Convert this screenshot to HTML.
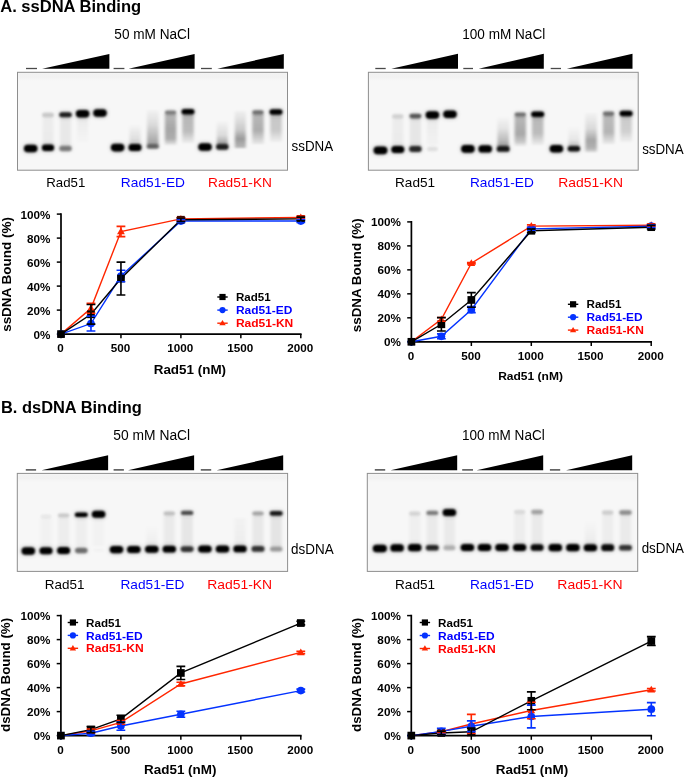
<!DOCTYPE html>
<html><head><meta charset="utf-8"><title>Rad51 binding</title>
<style>
html,body{margin:0;padding:0;background:#fff;width:685px;height:778px;overflow:hidden}
svg{display:block;font-family:"Liberation Sans", sans-serif;will-change:transform}
</style></head><body>
<svg width="685" height="778" viewBox="0 0 685 778">
<defs><filter id="bl" x="-50%" y="-80%" width="200%" height="260%"><feGaussianBlur stdDeviation="0.95"/></filter>
<filter id="bh" x="-80%" y="-150%" width="260%" height="400%"><feGaussianBlur stdDeviation="2.6"/></filter>
<filter id="bs" x="-50%" y="-20%" width="200%" height="140%"><feGaussianBlur stdDeviation="1.6 1.2"/></filter>
<linearGradient id="well" x1="0" y1="0" x2="0" y2="1"><stop offset="0" stop-color="#e6e6e6" stop-opacity="0.5"/><stop offset="0.5" stop-color="#e8e8e8" stop-opacity="0.6"/><stop offset="1" stop-color="#eeeeee" stop-opacity="0"/></linearGradient>
<linearGradient id="sg2" x1="0" y1="0" x2="0" y2="1"><stop offset="0" stop-color="#000" stop-opacity="0.04"/><stop offset="1" stop-color="#000" stop-opacity="0.05"/></linearGradient>
<linearGradient id="sg3" x1="0" y1="0" x2="0" y2="1"><stop offset="0" stop-color="#000" stop-opacity="0.06"/><stop offset="1" stop-color="#000" stop-opacity="0.06"/></linearGradient>
<linearGradient id="sg4" x1="0" y1="0" x2="0" y2="1"><stop offset="0" stop-color="#000" stop-opacity="0.05"/><stop offset="1" stop-color="#000" stop-opacity="0.01"/></linearGradient>
<linearGradient id="sg5" x1="0" y1="0" x2="0" y2="1"><stop offset="0" stop-color="#000" stop-opacity="0.0"/><stop offset="1" stop-color="#000" stop-opacity="0.15"/></linearGradient>
<linearGradient id="sg6" x1="0" y1="0" x2="0" y2="1"><stop offset="0" stop-color="#000" stop-opacity="0.02"/><stop offset="0.4" stop-color="#000" stop-opacity="0.12"/><stop offset="0.8" stop-color="#000" stop-opacity="0.3"/><stop offset="1" stop-color="#000" stop-opacity="0.38"/></linearGradient>
<linearGradient id="sg7" x1="0" y1="0" x2="0" y2="1"><stop offset="0" stop-color="#000" stop-opacity="0.25"/><stop offset="0.5" stop-color="#000" stop-opacity="0.33"/><stop offset="0.8" stop-color="#000" stop-opacity="0.3"/><stop offset="1" stop-color="#000" stop-opacity="0.06"/></linearGradient>
<linearGradient id="sg8" x1="0" y1="0" x2="0" y2="1"><stop offset="0" stop-color="#000" stop-opacity="0.26"/><stop offset="0.6" stop-color="#000" stop-opacity="0.24"/><stop offset="1" stop-color="#000" stop-opacity="0.04"/></linearGradient>
<linearGradient id="sg9" x1="0" y1="0" x2="0" y2="1"><stop offset="0" stop-color="#000" stop-opacity="0.0"/><stop offset="0.6" stop-color="#000" stop-opacity="0.12"/><stop offset="1" stop-color="#000" stop-opacity="0.4"/></linearGradient>
<linearGradient id="sg10" x1="0" y1="0" x2="0" y2="1"><stop offset="0" stop-color="#000" stop-opacity="0.03"/><stop offset="0.5" stop-color="#000" stop-opacity="0.18"/><stop offset="0.75" stop-color="#000" stop-opacity="0.38"/><stop offset="1" stop-color="#000" stop-opacity="0.25"/></linearGradient>
<linearGradient id="sg11" x1="0" y1="0" x2="0" y2="1"><stop offset="0" stop-color="#000" stop-opacity="0.25"/><stop offset="0.55" stop-color="#000" stop-opacity="0.3"/><stop offset="1" stop-color="#000" stop-opacity="0.06"/></linearGradient>
<linearGradient id="sg12" x1="0" y1="0" x2="0" y2="1"><stop offset="0" stop-color="#000" stop-opacity="0.2"/><stop offset="0.6" stop-color="#000" stop-opacity="0.18"/><stop offset="1" stop-color="#000" stop-opacity="0.03"/></linearGradient>
<linearGradient id="sg14" x1="0" y1="0" x2="0" y2="1"><stop offset="0" stop-color="#000" stop-opacity="0.04"/><stop offset="1" stop-color="#000" stop-opacity="0.05"/></linearGradient>
<linearGradient id="sg15" x1="0" y1="0" x2="0" y2="1"><stop offset="0" stop-color="#000" stop-opacity="0.07"/><stop offset="1" stop-color="#000" stop-opacity="0.07"/></linearGradient>
<linearGradient id="sg16" x1="0" y1="0" x2="0" y2="1"><stop offset="0" stop-color="#000" stop-opacity="0.05"/><stop offset="1" stop-color="#000" stop-opacity="0.02"/></linearGradient>
<linearGradient id="sg17" x1="0" y1="0" x2="0" y2="1"><stop offset="0" stop-color="#000" stop-opacity="0.0"/><stop offset="0.4" stop-color="#000" stop-opacity="0.08"/><stop offset="0.8" stop-color="#000" stop-opacity="0.25"/><stop offset="1" stop-color="#000" stop-opacity="0.35"/></linearGradient>
<linearGradient id="sg18" x1="0" y1="0" x2="0" y2="1"><stop offset="0" stop-color="#000" stop-opacity="0.25"/><stop offset="0.6" stop-color="#000" stop-opacity="0.32"/><stop offset="0.85" stop-color="#000" stop-opacity="0.2"/><stop offset="1" stop-color="#000" stop-opacity="0.04"/></linearGradient>
<linearGradient id="sg19" x1="0" y1="0" x2="0" y2="1"><stop offset="0" stop-color="#000" stop-opacity="0.25"/><stop offset="0.6" stop-color="#000" stop-opacity="0.24"/><stop offset="1" stop-color="#000" stop-opacity="0.04"/></linearGradient>
<linearGradient id="sg20" x1="0" y1="0" x2="0" y2="1"><stop offset="0" stop-color="#000" stop-opacity="0.0"/><stop offset="0.6" stop-color="#000" stop-opacity="0.06"/><stop offset="1" stop-color="#000" stop-opacity="0.2"/></linearGradient>
<linearGradient id="sg21" x1="0" y1="0" x2="0" y2="1"><stop offset="0" stop-color="#000" stop-opacity="0.02"/><stop offset="0.4" stop-color="#000" stop-opacity="0.12"/><stop offset="0.7" stop-color="#000" stop-opacity="0.33"/><stop offset="0.9" stop-color="#000" stop-opacity="0.28"/><stop offset="1" stop-color="#000" stop-opacity="0.12"/></linearGradient>
<linearGradient id="sg22" x1="0" y1="0" x2="0" y2="1"><stop offset="0" stop-color="#000" stop-opacity="0.24"/><stop offset="0.6" stop-color="#000" stop-opacity="0.27"/><stop offset="1" stop-color="#000" stop-opacity="0.05"/></linearGradient>
<linearGradient id="sg23" x1="0" y1="0" x2="0" y2="1"><stop offset="0" stop-color="#000" stop-opacity="0.18"/><stop offset="0.6" stop-color="#000" stop-opacity="0.16"/><stop offset="1" stop-color="#000" stop-opacity="0.03"/></linearGradient>
<linearGradient id="sg25" x1="0" y1="0" x2="0" y2="1"><stop offset="0" stop-color="#000" stop-opacity="0.025"/><stop offset="1" stop-color="#000" stop-opacity="0.025"/></linearGradient>
<linearGradient id="sg26" x1="0" y1="0" x2="0" y2="1"><stop offset="0" stop-color="#000" stop-opacity="0.04"/><stop offset="1" stop-color="#000" stop-opacity="0.04"/></linearGradient>
<linearGradient id="sg27" x1="0" y1="0" x2="0" y2="1"><stop offset="0" stop-color="#000" stop-opacity="0.035"/><stop offset="1" stop-color="#000" stop-opacity="0.035"/></linearGradient>
<linearGradient id="sg28" x1="0" y1="0" x2="0" y2="1"><stop offset="0" stop-color="#000" stop-opacity="0.02"/><stop offset="1" stop-color="#000" stop-opacity="0.02"/></linearGradient>
<linearGradient id="sg29" x1="0" y1="0" x2="0" y2="1"><stop offset="0" stop-color="#000" stop-opacity="0.0"/><stop offset="1" stop-color="#000" stop-opacity="0.04"/></linearGradient>
<linearGradient id="sg30" x1="0" y1="0" x2="0" y2="1"><stop offset="0" stop-color="#000" stop-opacity="0.05"/><stop offset="1" stop-color="#000" stop-opacity="0.05"/></linearGradient>
<linearGradient id="sg31" x1="0" y1="0" x2="0" y2="1"><stop offset="0" stop-color="#000" stop-opacity="0.07"/><stop offset="1" stop-color="#000" stop-opacity="0.07"/></linearGradient>
<linearGradient id="sg32" x1="0" y1="0" x2="0" y2="1"><stop offset="0" stop-color="#000" stop-opacity="0.02"/><stop offset="1" stop-color="#000" stop-opacity="0.04"/></linearGradient>
<linearGradient id="sg33" x1="0" y1="0" x2="0" y2="1"><stop offset="0" stop-color="#000" stop-opacity="0.06"/><stop offset="1" stop-color="#000" stop-opacity="0.06"/></linearGradient>
<linearGradient id="sg34" x1="0" y1="0" x2="0" y2="1"><stop offset="0" stop-color="#000" stop-opacity="0.08"/><stop offset="1" stop-color="#000" stop-opacity="0.08"/></linearGradient>
<linearGradient id="sg36" x1="0" y1="0" x2="0" y2="1"><stop offset="0" stop-color="#000" stop-opacity="0.03"/><stop offset="1" stop-color="#000" stop-opacity="0.03"/></linearGradient>
<linearGradient id="sg37" x1="0" y1="0" x2="0" y2="1"><stop offset="0" stop-color="#000" stop-opacity="0.05"/><stop offset="1" stop-color="#000" stop-opacity="0.05"/></linearGradient>
<linearGradient id="sg38" x1="0" y1="0" x2="0" y2="1"><stop offset="0" stop-color="#000" stop-opacity="0.05"/><stop offset="1" stop-color="#000" stop-opacity="0.05"/></linearGradient>
<linearGradient id="sg39" x1="0" y1="0" x2="0" y2="1"><stop offset="0" stop-color="#000" stop-opacity="0.04"/><stop offset="1" stop-color="#000" stop-opacity="0.04"/></linearGradient>
<linearGradient id="sg40" x1="0" y1="0" x2="0" y2="1"><stop offset="0" stop-color="#000" stop-opacity="0.05"/><stop offset="1" stop-color="#000" stop-opacity="0.05"/></linearGradient>
<linearGradient id="sg41" x1="0" y1="0" x2="0" y2="1"><stop offset="0" stop-color="#000" stop-opacity="0.0"/><stop offset="1" stop-color="#000" stop-opacity="0.05"/></linearGradient>
<linearGradient id="sg42" x1="0" y1="0" x2="0" y2="1"><stop offset="0" stop-color="#000" stop-opacity="0.04"/><stop offset="1" stop-color="#000" stop-opacity="0.04"/></linearGradient>
<linearGradient id="sg43" x1="0" y1="0" x2="0" y2="1"><stop offset="0" stop-color="#000" stop-opacity="0.05"/><stop offset="1" stop-color="#000" stop-opacity="0.05"/></linearGradient></defs>
<text x="0.19" y="11.7" font-size="16" font-weight="bold" fill="#000" textLength="140.91" lengthAdjust="spacingAndGlyphs">A. ssDNA Binding</text>
<text x="1.01" y="412.8" font-size="16" font-weight="bold" fill="#000" textLength="140.79" lengthAdjust="spacingAndGlyphs">B. dsDNA Binding</text>
<rect x="17.5" y="72.3" width="270.0" height="97.89999999999999" fill="#f7f7f7" stroke="#8e8e8e" stroke-width="1"/>
<rect x="18.5" y="73.3" width="268.0" height="8" fill="url(#well)" opacity="0.6"/>
<rect x="23.95" y="144.70" width="13.5" height="7.6" rx="3.80" fill="#000" opacity="0.300" filter="url(#bh)"/>
<rect x="23.95" y="144.70" width="13.5" height="7.6" rx="3.80" fill="#000" opacity="1" filter="url(#bl)"/>
<rect x="42.50" y="117" width="11" height="29" fill="url(#sg2)" filter="url(#bs)"/>
<rect x="41.90" y="144.55" width="12.2" height="6.5" rx="3.25" fill="#000" opacity="0.300" filter="url(#bh)"/>
<rect x="41.90" y="144.55" width="12.2" height="6.5" rx="3.25" fill="#000" opacity="1" filter="url(#bl)"/>
<rect x="42.00" y="112.75" width="12.0" height="4.5" rx="2.25" fill="#000" opacity="0.048" filter="url(#bh)"/>
<rect x="42.00" y="112.75" width="12.0" height="4.5" rx="2.25" fill="#000" opacity="0.16" filter="url(#bl)"/>
<rect x="60.00" y="117" width="11" height="29" fill="url(#sg3)" filter="url(#bs)"/>
<rect x="59.25" y="112.30" width="12.5" height="5" rx="2.50" fill="#000" opacity="0.255" filter="url(#bh)"/>
<rect x="59.25" y="112.30" width="12.5" height="5" rx="2.50" fill="#000" opacity="0.85" filter="url(#bl)"/>
<rect x="59.25" y="145.75" width="12.5" height="5.5" rx="2.75" fill="#000" opacity="0.135" filter="url(#bh)"/>
<rect x="59.25" y="145.75" width="12.5" height="5.5" rx="2.75" fill="#000" opacity="0.45" filter="url(#bl)"/>
<rect x="77.10" y="117" width="11" height="25" fill="url(#sg4)" filter="url(#bs)"/>
<rect x="75.85" y="110.00" width="13.5" height="7.4" rx="3.70" fill="#000" opacity="0.300" filter="url(#bh)"/>
<rect x="75.85" y="110.00" width="13.5" height="7.4" rx="3.70" fill="#000" opacity="1" filter="url(#bl)"/>
<rect x="93.25" y="109.30" width="13.5" height="7.4" rx="3.70" fill="#000" opacity="0.300" filter="url(#bh)"/>
<rect x="93.25" y="109.30" width="13.5" height="7.4" rx="3.70" fill="#000" opacity="1" filter="url(#bl)"/>
<rect x="110.85" y="143.80" width="13.5" height="7.6" rx="3.80" fill="#000" opacity="0.300" filter="url(#bh)"/>
<rect x="110.85" y="143.80" width="13.5" height="7.6" rx="3.80" fill="#000" opacity="1" filter="url(#bl)"/>
<rect x="129.50" y="124" width="11" height="22" fill="url(#sg5)" filter="url(#bs)"/>
<rect x="128.50" y="144.10" width="13.0" height="7.0" rx="3.50" fill="#000" opacity="0.300" filter="url(#bh)"/>
<rect x="128.50" y="144.10" width="13.0" height="7.0" rx="3.50" fill="#000" opacity="1" filter="url(#bl)"/>
<rect x="147.05" y="110" width="11.5" height="38" fill="url(#sg6)" filter="url(#bs)"/>
<rect x="146.80" y="144.00" width="12.0" height="5" rx="2.50" fill="#000" opacity="0.105" filter="url(#bh)"/>
<rect x="146.80" y="144.00" width="12.0" height="5" rx="2.50" fill="#000" opacity="0.35" filter="url(#bl)"/>
<rect x="164.85" y="114" width="11.5" height="31" fill="url(#sg7)" filter="url(#bs)"/>
<rect x="164.85" y="110.40" width="11.5" height="4.2" rx="2.10" fill="#000" opacity="0.135" filter="url(#bh)"/>
<rect x="164.85" y="110.40" width="11.5" height="4.2" rx="2.10" fill="#000" opacity="0.45" filter="url(#bl)"/>
<rect x="182.25" y="114" width="11.5" height="29" fill="url(#sg8)" filter="url(#bs)"/>
<rect x="181.50" y="109.05" width="13.0" height="5.5" rx="2.75" fill="#000" opacity="0.300" filter="url(#bh)"/>
<rect x="181.50" y="109.05" width="13.0" height="5.5" rx="2.75" fill="#000" opacity="1" filter="url(#bl)"/>
<rect x="198.25" y="143.20" width="13.5" height="7.6" rx="3.80" fill="#000" opacity="0.300" filter="url(#bh)"/>
<rect x="198.25" y="143.20" width="13.5" height="7.6" rx="3.80" fill="#000" opacity="1" filter="url(#bl)"/>
<rect x="216.80" y="120" width="11" height="26" fill="url(#sg9)" filter="url(#bs)"/>
<rect x="216.05" y="144.25" width="12.5" height="5.5" rx="2.75" fill="#000" opacity="0.255" filter="url(#bh)"/>
<rect x="216.05" y="144.25" width="12.5" height="5.5" rx="2.75" fill="#000" opacity="0.85" filter="url(#bl)"/>
<rect x="234.80" y="111" width="11" height="37" fill="url(#sg10)" filter="url(#bs)"/>
<rect x="252.25" y="114" width="11.5" height="30" fill="url(#sg11)" filter="url(#bs)"/>
<rect x="252.25" y="110.30" width="11.5" height="4.2" rx="2.10" fill="#000" opacity="0.150" filter="url(#bh)"/>
<rect x="252.25" y="110.30" width="11.5" height="4.2" rx="2.10" fill="#000" opacity="0.5" filter="url(#bl)"/>
<rect x="270.25" y="114" width="11.5" height="28" fill="url(#sg12)" filter="url(#bs)"/>
<rect x="269.50" y="109.25" width="13.0" height="5.5" rx="2.75" fill="#000" opacity="0.300" filter="url(#bh)"/>
<rect x="269.50" y="109.25" width="13.0" height="5.5" rx="2.75" fill="#000" opacity="1" filter="url(#bl)"/>
<rect x="368.4" y="72.3" width="269.80000000000007" height="97.89999999999999" fill="#f7f7f7" stroke="#8e8e8e" stroke-width="1"/>
<rect x="369.4" y="73.3" width="267.80000000000007" height="8" fill="url(#well)" opacity="0.6"/>
<rect x="373.60" y="146.40" width="13.8" height="7.8" rx="3.90" fill="#000" opacity="0.300" filter="url(#bh)"/>
<rect x="373.60" y="146.40" width="13.8" height="7.8" rx="3.90" fill="#000" opacity="1" filter="url(#bl)"/>
<rect x="392.30" y="118" width="11" height="29" fill="url(#sg14)" filter="url(#bs)"/>
<rect x="391.30" y="146.00" width="13.0" height="7.0" rx="3.50" fill="#000" opacity="0.300" filter="url(#bh)"/>
<rect x="391.30" y="146.00" width="13.0" height="7.0" rx="3.50" fill="#000" opacity="1" filter="url(#bl)"/>
<rect x="392.05" y="114.30" width="11.5" height="4.2" rx="2.10" fill="#000" opacity="0.039" filter="url(#bh)"/>
<rect x="392.05" y="114.30" width="11.5" height="4.2" rx="2.10" fill="#000" opacity="0.13" filter="url(#bl)"/>
<rect x="409.90" y="118" width="11" height="29" fill="url(#sg15)" filter="url(#bs)"/>
<rect x="409.40" y="113.70" width="12.0" height="4.8" rx="2.40" fill="#000" opacity="0.180" filter="url(#bh)"/>
<rect x="409.40" y="113.70" width="12.0" height="4.8" rx="2.40" fill="#000" opacity="0.6" filter="url(#bl)"/>
<rect x="409.15" y="146.10" width="12.5" height="5.8" rx="2.90" fill="#000" opacity="0.240" filter="url(#bh)"/>
<rect x="409.15" y="146.10" width="12.5" height="5.8" rx="2.90" fill="#000" opacity="0.8" filter="url(#bl)"/>
<rect x="426.90" y="117" width="11" height="28" fill="url(#sg16)" filter="url(#bs)"/>
<rect x="425.65" y="111.30" width="13.5" height="7.4" rx="3.70" fill="#000" opacity="0.300" filter="url(#bh)"/>
<rect x="425.65" y="111.30" width="13.5" height="7.4" rx="3.70" fill="#000" opacity="1" filter="url(#bl)"/>
<rect x="426.90" y="146.75" width="11.0" height="4.5" rx="2.25" fill="#000" opacity="0.024" filter="url(#bh)"/>
<rect x="426.90" y="146.75" width="11.0" height="4.5" rx="2.25" fill="#000" opacity="0.08" filter="url(#bl)"/>
<rect x="443.25" y="110.60" width="13.5" height="7.4" rx="3.70" fill="#000" opacity="0.300" filter="url(#bh)"/>
<rect x="443.25" y="110.60" width="13.5" height="7.4" rx="3.70" fill="#000" opacity="1" filter="url(#bl)"/>
<rect x="461.15" y="145.10" width="13.5" height="7.6" rx="3.80" fill="#000" opacity="0.300" filter="url(#bh)"/>
<rect x="461.15" y="145.10" width="13.5" height="7.6" rx="3.80" fill="#000" opacity="1" filter="url(#bl)"/>
<rect x="478.45" y="145.20" width="13.5" height="7.4" rx="3.70" fill="#000" opacity="0.300" filter="url(#bh)"/>
<rect x="478.45" y="145.20" width="13.5" height="7.4" rx="3.70" fill="#000" opacity="1" filter="url(#bl)"/>
<rect x="497.45" y="116" width="11.5" height="31" fill="url(#sg17)" filter="url(#bs)"/>
<rect x="496.70" y="146.00" width="13.0" height="5.8" rx="2.90" fill="#000" opacity="0.264" filter="url(#bh)"/>
<rect x="496.70" y="146.00" width="13.0" height="5.8" rx="2.90" fill="#000" opacity="0.88" filter="url(#bl)"/>
<rect x="514.55" y="116" width="11.5" height="30" fill="url(#sg18)" filter="url(#bs)"/>
<rect x="514.55" y="112.40" width="11.5" height="4.2" rx="2.10" fill="#000" opacity="0.150" filter="url(#bh)"/>
<rect x="514.55" y="112.40" width="11.5" height="4.2" rx="2.10" fill="#000" opacity="0.5" filter="url(#bl)"/>
<rect x="531.95" y="116" width="11.5" height="29" fill="url(#sg19)" filter="url(#bs)"/>
<rect x="531.20" y="111.45" width="13.0" height="5.5" rx="2.75" fill="#000" opacity="0.300" filter="url(#bh)"/>
<rect x="531.20" y="111.45" width="13.0" height="5.5" rx="2.75" fill="#000" opacity="1" filter="url(#bl)"/>
<rect x="549.65" y="145.00" width="13.5" height="7.6" rx="3.80" fill="#000" opacity="0.300" filter="url(#bh)"/>
<rect x="549.65" y="145.00" width="13.5" height="7.6" rx="3.80" fill="#000" opacity="1" filter="url(#bl)"/>
<rect x="568.40" y="126" width="11" height="21" fill="url(#sg20)" filter="url(#bs)"/>
<rect x="567.65" y="146.05" width="12.5" height="5.5" rx="2.75" fill="#000" opacity="0.270" filter="url(#bh)"/>
<rect x="567.65" y="146.05" width="12.5" height="5.5" rx="2.75" fill="#000" opacity="0.9" filter="url(#bl)"/>
<rect x="585.35" y="113" width="11.5" height="39" fill="url(#sg21)" filter="url(#bs)"/>
<rect x="602.85" y="115" width="11.5" height="29" fill="url(#sg22)" filter="url(#bs)"/>
<rect x="602.85" y="111.50" width="11.5" height="4.2" rx="2.10" fill="#000" opacity="0.150" filter="url(#bh)"/>
<rect x="602.85" y="111.50" width="11.5" height="4.2" rx="2.10" fill="#000" opacity="0.5" filter="url(#bl)"/>
<rect x="620.35" y="115" width="11.5" height="27" fill="url(#sg23)" filter="url(#bs)"/>
<rect x="619.60" y="110.75" width="13.0" height="5.5" rx="2.75" fill="#000" opacity="0.300" filter="url(#bh)"/>
<rect x="619.60" y="110.75" width="13.0" height="5.5" rx="2.75" fill="#000" opacity="1" filter="url(#bl)"/>
<rect x="17.3" y="473.4" width="270.3" height="98.0" fill="#f7f7f7" stroke="#8e8e8e" stroke-width="1"/>
<rect x="18.3" y="474.4" width="268.3" height="8" fill="url(#well)" opacity="0.6"/>
<rect x="21.55" y="547.30" width="13.5" height="7.4" rx="3.70" fill="#000" opacity="0.300" filter="url(#bh)"/>
<rect x="21.55" y="547.30" width="13.5" height="7.4" rx="3.70" fill="#000" opacity="1" filter="url(#bl)"/>
<rect x="40.50" y="518" width="11" height="28" fill="url(#sg25)" filter="url(#bs)"/>
<rect x="39.50" y="547.30" width="13.0" height="7.0" rx="3.50" fill="#000" opacity="0.300" filter="url(#bh)"/>
<rect x="39.50" y="547.30" width="13.0" height="7.0" rx="3.50" fill="#000" opacity="1" filter="url(#bl)"/>
<rect x="40.50" y="514.50" width="11.0" height="4" rx="2.00" fill="#000" opacity="0.015" filter="url(#bh)"/>
<rect x="40.50" y="514.50" width="11.0" height="4" rx="2.00" fill="#000" opacity="0.05" filter="url(#bl)"/>
<rect x="58.10" y="518" width="11" height="28" fill="url(#sg26)" filter="url(#bs)"/>
<rect x="57.10" y="547.10" width="13.0" height="7.0" rx="3.50" fill="#000" opacity="0.300" filter="url(#bh)"/>
<rect x="57.10" y="547.10" width="13.0" height="7.0" rx="3.50" fill="#000" opacity="1" filter="url(#bl)"/>
<rect x="57.85" y="513.60" width="11.5" height="4" rx="2.00" fill="#000" opacity="0.048" filter="url(#bh)"/>
<rect x="57.85" y="513.60" width="11.5" height="4" rx="2.00" fill="#000" opacity="0.16" filter="url(#bl)"/>
<rect x="75.80" y="517" width="11" height="29" fill="url(#sg27)" filter="url(#bs)"/>
<rect x="74.80" y="512.40" width="13.0" height="4.6" rx="2.30" fill="#000" opacity="0.300" filter="url(#bh)"/>
<rect x="74.80" y="512.40" width="13.0" height="4.6" rx="2.30" fill="#000" opacity="1" filter="url(#bl)"/>
<rect x="75.05" y="547.65" width="12.5" height="5.5" rx="2.75" fill="#000" opacity="0.150" filter="url(#bh)"/>
<rect x="75.05" y="547.65" width="12.5" height="5.5" rx="2.75" fill="#000" opacity="0.5" filter="url(#bl)"/>
<rect x="91.85" y="510.70" width="13.5" height="7.0" rx="3.50" fill="#000" opacity="0.300" filter="url(#bh)"/>
<rect x="91.85" y="510.70" width="13.5" height="7.0" rx="3.50" fill="#000" opacity="1" filter="url(#bl)"/>
<rect x="93.10" y="548.20" width="11.0" height="4" rx="2.00" fill="#000" opacity="0.004" filter="url(#bh)"/>
<rect x="93.10" y="548.20" width="11.0" height="4" rx="2.00" fill="#000" opacity="0.015" filter="url(#bl)"/>
<rect x="93.10" y="518" width="11" height="28" fill="url(#sg28)" filter="url(#bs)"/>
<rect x="109.75" y="545.90" width="13.5" height="7.4" rx="3.70" fill="#000" opacity="0.300" filter="url(#bh)"/>
<rect x="109.75" y="545.90" width="13.5" height="7.4" rx="3.70" fill="#000" opacity="1" filter="url(#bl)"/>
<rect x="127.05" y="545.90" width="13.5" height="7.0" rx="3.50" fill="#000" opacity="0.300" filter="url(#bh)"/>
<rect x="127.05" y="545.90" width="13.5" height="7.0" rx="3.50" fill="#000" opacity="1" filter="url(#bl)"/>
<rect x="146.30" y="525" width="11" height="20" fill="url(#sg29)" filter="url(#bs)"/>
<rect x="145.05" y="545.80" width="13.5" height="7.0" rx="3.50" fill="#000" opacity="0.300" filter="url(#bh)"/>
<rect x="145.05" y="545.80" width="13.5" height="7.0" rx="3.50" fill="#000" opacity="1" filter="url(#bl)"/>
<rect x="163.80" y="516" width="11" height="30" fill="url(#sg30)" filter="url(#bs)"/>
<rect x="162.65" y="545.85" width="13.3" height="6.7" rx="3.35" fill="#000" opacity="0.300" filter="url(#bh)"/>
<rect x="162.65" y="545.85" width="13.3" height="6.7" rx="3.35" fill="#000" opacity="1" filter="url(#bl)"/>
<rect x="163.55" y="511.40" width="11.5" height="4" rx="2.00" fill="#000" opacity="0.060" filter="url(#bh)"/>
<rect x="163.55" y="511.40" width="11.5" height="4" rx="2.00" fill="#000" opacity="0.2" filter="url(#bl)"/>
<rect x="181.60" y="516" width="11" height="30" fill="url(#sg31)" filter="url(#bs)"/>
<rect x="180.60" y="546.30" width="13.0" height="5.6" rx="2.80" fill="#000" opacity="0.225" filter="url(#bh)"/>
<rect x="180.60" y="546.30" width="13.0" height="5.6" rx="2.80" fill="#000" opacity="0.75" filter="url(#bl)"/>
<rect x="180.85" y="510.70" width="12.5" height="4.4" rx="2.20" fill="#000" opacity="0.195" filter="url(#bh)"/>
<rect x="180.85" y="510.70" width="12.5" height="4.4" rx="2.20" fill="#000" opacity="0.65" filter="url(#bl)"/>
<rect x="198.15" y="545.40" width="13.5" height="7.2" rx="3.60" fill="#000" opacity="0.300" filter="url(#bh)"/>
<rect x="198.15" y="545.40" width="13.5" height="7.2" rx="3.60" fill="#000" opacity="1" filter="url(#bl)"/>
<rect x="215.75" y="545.40" width="13.5" height="7.0" rx="3.50" fill="#000" opacity="0.300" filter="url(#bh)"/>
<rect x="215.75" y="545.40" width="13.5" height="7.0" rx="3.50" fill="#000" opacity="1" filter="url(#bl)"/>
<rect x="234.50" y="518" width="11" height="27" fill="url(#sg32)" filter="url(#bs)"/>
<rect x="233.35" y="545.50" width="13.3" height="6.8" rx="3.40" fill="#000" opacity="0.300" filter="url(#bh)"/>
<rect x="233.35" y="545.50" width="13.3" height="6.8" rx="3.40" fill="#000" opacity="1" filter="url(#bl)"/>
<rect x="252.50" y="516" width="11" height="30" fill="url(#sg33)" filter="url(#bs)"/>
<rect x="251.50" y="546.10" width="13.0" height="5.6" rx="2.80" fill="#000" opacity="0.225" filter="url(#bh)"/>
<rect x="251.50" y="546.10" width="13.0" height="5.6" rx="2.80" fill="#000" opacity="0.75" filter="url(#bl)"/>
<rect x="252.25" y="511.40" width="11.5" height="4" rx="2.00" fill="#000" opacity="0.090" filter="url(#bh)"/>
<rect x="252.25" y="511.40" width="11.5" height="4" rx="2.00" fill="#000" opacity="0.3" filter="url(#bl)"/>
<rect x="270.70" y="516" width="11" height="30" fill="url(#sg34)" filter="url(#bs)"/>
<rect x="269.95" y="546.40" width="12.5" height="5" rx="2.50" fill="#000" opacity="0.099" filter="url(#bh)"/>
<rect x="269.95" y="546.40" width="12.5" height="5" rx="2.50" fill="#000" opacity="0.33" filter="url(#bl)"/>
<rect x="269.70" y="511.00" width="13.0" height="4.8" rx="2.40" fill="#000" opacity="0.264" filter="url(#bh)"/>
<rect x="269.70" y="511.00" width="13.0" height="4.8" rx="2.40" fill="#000" opacity="0.88" filter="url(#bl)"/>
<rect x="367.3" y="473.4" width="270.40000000000003" height="98.0" fill="#f7f7f7" stroke="#8e8e8e" stroke-width="1"/>
<rect x="368.3" y="474.4" width="268.40000000000003" height="8" fill="url(#well)" opacity="0.6"/>
<rect x="372.80" y="544.85" width="14.0" height="7.5" rx="3.75" fill="#000" opacity="0.300" filter="url(#bh)"/>
<rect x="372.80" y="544.85" width="14.0" height="7.5" rx="3.75" fill="#000" opacity="1" filter="url(#bl)"/>
<rect x="390.35" y="544.30" width="13.5" height="7.2" rx="3.60" fill="#000" opacity="0.300" filter="url(#bh)"/>
<rect x="390.35" y="544.30" width="13.5" height="7.2" rx="3.60" fill="#000" opacity="1" filter="url(#bl)"/>
<rect x="409.20" y="515" width="11" height="30" fill="url(#sg36)" filter="url(#bs)"/>
<rect x="407.95" y="544.10" width="13.5" height="7.2" rx="3.60" fill="#000" opacity="0.300" filter="url(#bh)"/>
<rect x="407.95" y="544.10" width="13.5" height="7.2" rx="3.60" fill="#000" opacity="1" filter="url(#bl)"/>
<rect x="408.95" y="511.40" width="11.5" height="4" rx="2.00" fill="#000" opacity="0.036" filter="url(#bh)"/>
<rect x="408.95" y="511.40" width="11.5" height="4" rx="2.00" fill="#000" opacity="0.12" filter="url(#bl)"/>
<rect x="426.80" y="515" width="11" height="30" fill="url(#sg37)" filter="url(#bs)"/>
<rect x="425.80" y="544.90" width="13.0" height="5.6" rx="2.80" fill="#000" opacity="0.246" filter="url(#bh)"/>
<rect x="425.80" y="544.90" width="13.0" height="5.6" rx="2.80" fill="#000" opacity="0.82" filter="url(#bl)"/>
<rect x="426.30" y="510.70" width="12.0" height="4.4" rx="2.20" fill="#000" opacity="0.135" filter="url(#bh)"/>
<rect x="426.30" y="510.70" width="12.0" height="4.4" rx="2.20" fill="#000" opacity="0.45" filter="url(#bl)"/>
<rect x="443.90" y="515" width="11" height="30" fill="url(#sg38)" filter="url(#bs)"/>
<rect x="443.40" y="545.20" width="12.0" height="5" rx="2.50" fill="#000" opacity="0.075" filter="url(#bh)"/>
<rect x="443.40" y="545.20" width="12.0" height="5" rx="2.50" fill="#000" opacity="0.25" filter="url(#bl)"/>
<rect x="442.65" y="509.00" width="13.5" height="7.0" rx="3.50" fill="#000" opacity="0.300" filter="url(#bh)"/>
<rect x="442.65" y="509.00" width="13.5" height="7.0" rx="3.50" fill="#000" opacity="1" filter="url(#bl)"/>
<rect x="460.65" y="543.90" width="13.5" height="7.2" rx="3.60" fill="#000" opacity="0.300" filter="url(#bh)"/>
<rect x="460.65" y="543.90" width="13.5" height="7.2" rx="3.60" fill="#000" opacity="1" filter="url(#bl)"/>
<rect x="477.75" y="543.90" width="13.5" height="7.2" rx="3.60" fill="#000" opacity="0.300" filter="url(#bh)"/>
<rect x="477.75" y="543.90" width="13.5" height="7.2" rx="3.60" fill="#000" opacity="1" filter="url(#bl)"/>
<rect x="495.25" y="543.90" width="13.5" height="7.2" rx="3.60" fill="#000" opacity="0.300" filter="url(#bh)"/>
<rect x="495.25" y="543.90" width="13.5" height="7.2" rx="3.60" fill="#000" opacity="1" filter="url(#bl)"/>
<rect x="514.10" y="514" width="11" height="31" fill="url(#sg39)" filter="url(#bs)"/>
<rect x="512.95" y="544.00" width="13.3" height="7.0" rx="3.50" fill="#000" opacity="0.300" filter="url(#bh)"/>
<rect x="512.95" y="544.00" width="13.3" height="7.0" rx="3.50" fill="#000" opacity="1" filter="url(#bl)"/>
<rect x="513.85" y="510.00" width="11.5" height="4" rx="2.00" fill="#000" opacity="0.030" filter="url(#bh)"/>
<rect x="513.85" y="510.00" width="11.5" height="4" rx="2.00" fill="#000" opacity="0.1" filter="url(#bl)"/>
<rect x="531.60" y="514" width="11" height="31" fill="url(#sg40)" filter="url(#bs)"/>
<rect x="530.60" y="544.15" width="13.0" height="6.7" rx="3.35" fill="#000" opacity="0.285" filter="url(#bh)"/>
<rect x="530.60" y="544.15" width="13.0" height="6.7" rx="3.35" fill="#000" opacity="0.95" filter="url(#bl)"/>
<rect x="531.10" y="509.80" width="12.0" height="4.4" rx="2.20" fill="#000" opacity="0.090" filter="url(#bh)"/>
<rect x="531.10" y="509.80" width="12.0" height="4.4" rx="2.20" fill="#000" opacity="0.3" filter="url(#bl)"/>
<rect x="548.55" y="544.10" width="13.5" height="7.2" rx="3.60" fill="#000" opacity="0.300" filter="url(#bh)"/>
<rect x="548.55" y="544.10" width="13.5" height="7.2" rx="3.60" fill="#000" opacity="1" filter="url(#bl)"/>
<rect x="566.15" y="544.10" width="13.5" height="7.2" rx="3.60" fill="#000" opacity="0.300" filter="url(#bh)"/>
<rect x="566.15" y="544.10" width="13.5" height="7.2" rx="3.60" fill="#000" opacity="1" filter="url(#bl)"/>
<rect x="584.90" y="520" width="11" height="25" fill="url(#sg41)" filter="url(#bs)"/>
<rect x="583.75" y="544.20" width="13.3" height="7.0" rx="3.50" fill="#000" opacity="0.300" filter="url(#bh)"/>
<rect x="583.75" y="544.20" width="13.3" height="7.0" rx="3.50" fill="#000" opacity="1" filter="url(#bl)"/>
<rect x="602.20" y="514" width="11" height="31" fill="url(#sg42)" filter="url(#bs)"/>
<rect x="601.20" y="544.35" width="13.0" height="6.7" rx="3.35" fill="#000" opacity="0.285" filter="url(#bh)"/>
<rect x="601.20" y="544.35" width="13.0" height="6.7" rx="3.35" fill="#000" opacity="0.95" filter="url(#bl)"/>
<rect x="601.95" y="510.50" width="11.5" height="4" rx="2.00" fill="#000" opacity="0.045" filter="url(#bh)"/>
<rect x="601.95" y="510.50" width="11.5" height="4" rx="2.00" fill="#000" opacity="0.15" filter="url(#bl)"/>
<rect x="620.00" y="514" width="11" height="31" fill="url(#sg43)" filter="url(#bs)"/>
<rect x="619.00" y="544.90" width="13.0" height="5.6" rx="2.80" fill="#000" opacity="0.225" filter="url(#bh)"/>
<rect x="619.00" y="544.90" width="13.0" height="5.6" rx="2.80" fill="#000" opacity="0.75" filter="url(#bl)"/>
<rect x="619.25" y="510.30" width="12.5" height="4.4" rx="2.20" fill="#000" opacity="0.114" filter="url(#bh)"/>
<rect x="619.25" y="510.30" width="12.5" height="4.4" rx="2.20" fill="#000" opacity="0.38" filter="url(#bl)"/>
<rect x="26" y="67.85" width="11.00" height="1.3" fill="#4a4a4a"/>
<polygon points="42.2,68.8 109.4,53.9 109.4,68.8" fill="#000"/>
<rect x="113.6" y="67.85" width="10.80" height="1.3" fill="#4a4a4a"/>
<polygon points="128.5,68.8 194.6,53.9 194.6,68.8" fill="#000"/>
<rect x="201" y="67.85" width="10.80" height="1.3" fill="#4a4a4a"/>
<polygon points="217.3,68.8 283.8,53.9 283.8,68.8" fill="#000"/>
<rect x="375.3" y="67.85" width="10.40" height="1.3" fill="#4a4a4a"/>
<polygon points="391.3,68.8 458,53.8 458,68.8" fill="#000"/>
<rect x="463.3" y="67.85" width="9.70" height="1.3" fill="#4a4a4a"/>
<polygon points="478.6,68.8 543.8,53.8 543.8,68.8" fill="#000"/>
<rect x="550.7" y="67.85" width="10.30" height="1.3" fill="#4a4a4a"/>
<polygon points="566.8,68.8 632.5,53.8 632.5,68.8" fill="#000"/>
<rect x="25.8" y="469.25" width="10.30" height="1.3" fill="#333"/>
<polygon points="41.5,470.2 108.1,455.3 108.1,470.2" fill="#000"/>
<rect x="113.6" y="469.25" width="10.30" height="1.3" fill="#333"/>
<polygon points="128,470.2 194.1,455.3 194.1,470.2" fill="#000"/>
<rect x="200.8" y="469.25" width="10.40" height="1.3" fill="#333"/>
<polygon points="216.6,470.2 283.2,455.3 283.2,470.2" fill="#000"/>
<rect x="374.8" y="469.25" width="10.40" height="1.3" fill="#333"/>
<polygon points="390.6,470.2 457.2,455.3 457.2,470.2" fill="#000"/>
<rect x="462.2" y="469.25" width="10.80" height="1.3" fill="#333"/>
<polygon points="476.6,470.2 543.2,455.3 543.2,470.2" fill="#000"/>
<rect x="549.9" y="469.25" width="10.30" height="1.3" fill="#333"/>
<polygon points="566.1,470.2 632.2,455.3 632.2,470.2" fill="#000"/>
<text x="114.36" y="38.7" font-size="13.8" fill="#000" textLength="75.55" lengthAdjust="spacingAndGlyphs">50 mM NaCl</text>
<text x="462.27" y="38.9" font-size="13.8" fill="#000" textLength="82.94" lengthAdjust="spacingAndGlyphs">100 mM NaCl</text>
<text x="113.35" y="439.6" font-size="13.8" fill="#000" textLength="76.78" lengthAdjust="spacingAndGlyphs">50 mM NaCl</text>
<text x="461.97" y="439.7" font-size="13.8" fill="#000" textLength="82.74" lengthAdjust="spacingAndGlyphs">100 mM NaCl</text>
<text x="291.53" y="150.7" font-size="13.8" fill="#000" textLength="41.6" lengthAdjust="spacingAndGlyphs">ssDNA</text>
<text x="642.13" y="154.1" font-size="13.8" fill="#000" textLength="41.5" lengthAdjust="spacingAndGlyphs">ssDNA</text>
<text x="291.04" y="553.8" font-size="13.8" fill="#000" textLength="42.59" lengthAdjust="spacingAndGlyphs">dsDNA</text>
<text x="641.64" y="553.0" font-size="13.8" fill="#000" textLength="42.39" lengthAdjust="spacingAndGlyphs">dsDNA</text>
<text x="46.31" y="187.2" font-size="12.6" fill="#000" textLength="39.03" lengthAdjust="spacingAndGlyphs">Rad51</text>
<text x="120.87" y="187.2" font-size="12.6" fill="#0000ff" textLength="64.19" lengthAdjust="spacingAndGlyphs">Rad51-ED</text>
<text x="208.08" y="187.2" font-size="12.6" fill="#ff0000" textLength="63.84" lengthAdjust="spacingAndGlyphs">Rad51-KN</text>
<text x="395.09" y="187.0" font-size="12.6" fill="#000" textLength="39.98" lengthAdjust="spacingAndGlyphs">Rad51</text>
<text x="469.98" y="187.0" font-size="12.6" fill="#0000ff" textLength="63.88" lengthAdjust="spacingAndGlyphs">Rad51-ED</text>
<text x="558.26" y="187.0" font-size="12.6" fill="#ff0000" textLength="64.87" lengthAdjust="spacingAndGlyphs">Rad51-KN</text>
<text x="44.8" y="588.7" font-size="12.6" fill="#000" textLength="39.66" lengthAdjust="spacingAndGlyphs">Rad51</text>
<text x="120.48" y="588.7" font-size="12.6" fill="#0000ff" textLength="63.88" lengthAdjust="spacingAndGlyphs">Rad51-ED</text>
<text x="207.26" y="588.7" font-size="12.6" fill="#ff0000" textLength="64.87" lengthAdjust="spacingAndGlyphs">Rad51-KN</text>
<text x="395.09" y="588.9" font-size="12.6" fill="#000" textLength="39.98" lengthAdjust="spacingAndGlyphs">Rad51</text>
<text x="469.98" y="588.9" font-size="12.6" fill="#0000ff" textLength="63.88" lengthAdjust="spacingAndGlyphs">Rad51-ED</text>
<text x="557.35" y="588.9" font-size="12.6" fill="#ff0000" textLength="65.29" lengthAdjust="spacingAndGlyphs">Rad51-KN</text>
<path d="M61.00,213.30 V334.10 H301.60" fill="none" stroke="#000" stroke-width="1.7"/>
<line x1="56.80" y1="334.10" x2="61.00" y2="334.10" stroke="#000" stroke-width="1.5"/>
<text x="33.6" y="338.5" font-size="11.7" font-weight="bold" fill="#000" textLength="16.91" lengthAdjust="spacingAndGlyphs">0%</text>
<line x1="56.80" y1="310.10" x2="61.00" y2="310.10" stroke="#000" stroke-width="1.5"/>
<text x="27.09" y="314.5" font-size="11.7" font-weight="bold" fill="#000" textLength="23.42" lengthAdjust="spacingAndGlyphs">20%</text>
<line x1="56.80" y1="286.10" x2="61.00" y2="286.10" stroke="#000" stroke-width="1.5"/>
<text x="27.09" y="290.5" font-size="11.7" font-weight="bold" fill="#000" textLength="23.42" lengthAdjust="spacingAndGlyphs">40%</text>
<line x1="56.80" y1="262.10" x2="61.00" y2="262.10" stroke="#000" stroke-width="1.5"/>
<text x="27.09" y="266.5" font-size="11.7" font-weight="bold" fill="#000" textLength="23.42" lengthAdjust="spacingAndGlyphs">60%</text>
<line x1="56.80" y1="238.10" x2="61.00" y2="238.10" stroke="#000" stroke-width="1.5"/>
<text x="27.09" y="242.50000000000003" font-size="11.7" font-weight="bold" fill="#000" textLength="23.42" lengthAdjust="spacingAndGlyphs">80%</text>
<line x1="56.80" y1="214.10" x2="61.00" y2="214.10" stroke="#000" stroke-width="1.5"/>
<text x="20.58" y="218.50000000000003" font-size="11.7" font-weight="bold" fill="#000" textLength="29.92" lengthAdjust="spacingAndGlyphs">100%</text>
<line x1="61.00" y1="334.10" x2="61.00" y2="338.30" stroke="#000" stroke-width="1.5"/>
<text x="57.26" y="352.40000000000003" font-size="11.7" font-weight="bold" fill="#000" textLength="6.51" lengthAdjust="spacingAndGlyphs">0</text>
<line x1="120.95" y1="334.10" x2="120.95" y2="338.30" stroke="#000" stroke-width="1.5"/>
<text x="110.75" y="352.40000000000003" font-size="11.7" font-weight="bold" fill="#000" textLength="19.52" lengthAdjust="spacingAndGlyphs">500</text>
<line x1="180.90" y1="334.10" x2="180.90" y2="338.30" stroke="#000" stroke-width="1.5"/>
<text x="167.26" y="352.40000000000003" font-size="11.7" font-weight="bold" fill="#000" textLength="26.03" lengthAdjust="spacingAndGlyphs">1000</text>
<line x1="240.85" y1="334.10" x2="240.85" y2="338.30" stroke="#000" stroke-width="1.5"/>
<text x="227.21" y="352.40000000000003" font-size="11.7" font-weight="bold" fill="#000" textLength="26.03" lengthAdjust="spacingAndGlyphs">1500</text>
<line x1="300.80" y1="334.10" x2="300.80" y2="338.30" stroke="#000" stroke-width="1.5"/>
<text x="287.32" y="352.40000000000003" font-size="11.7" font-weight="bold" fill="#000" textLength="26.03" lengthAdjust="spacingAndGlyphs">2000</text>
<text x="0" y="0" font-size="12.2" font-weight="bold" textLength="114.84" lengthAdjust="spacingAndGlyphs" transform="translate(11.1,331.87) rotate(-90)">ssDNA Bound (%)</text>
<text x="153.7" y="373.6" font-size="12.4" font-weight="bold" fill="#000" textLength="72.37" lengthAdjust="spacingAndGlyphs">Rad51 (nM)</text>
<polyline points="61.00,334.10 90.97,308.30 120.95,231.50 180.90,218.90 300.80,217.46" fill="none" stroke="#ff2600" stroke-width="1.4"/>
<polyline points="61.00,334.10 90.97,323.54 120.95,276.02 180.90,221.06 300.80,221.06" fill="none" stroke="#0433ff" stroke-width="1.4"/>
<polyline points="61.00,334.10 90.97,314.30 120.95,278.54 180.90,219.74 300.80,218.90" fill="none" stroke="#000" stroke-width="1.4"/>
<polygon points="61.00,330.10 64.90,336.90 57.10,336.90" fill="#ff2600"/>
<polygon points="90.97,304.30 94.88,311.10 87.07,311.10" fill="#ff2600"/>
<polygon points="120.95,227.50 124.85,234.30 117.05,234.30" fill="#ff2600"/>
<polygon points="180.90,214.90 184.80,221.70 177.00,221.70" fill="#ff2600"/>
<polygon points="300.80,213.46 304.70,220.26 296.90,220.26" fill="#ff2600"/>
<circle cx="61.00" cy="334.10" r="3.85" fill="#0433ff"/>
<circle cx="90.97" cy="323.54" r="3.85" fill="#0433ff"/>
<circle cx="120.95" cy="276.02" r="3.85" fill="#0433ff"/>
<circle cx="180.90" cy="221.06" r="3.85" fill="#0433ff"/>
<circle cx="300.80" cy="221.06" r="3.85" fill="#0433ff"/>
<rect x="57.15" y="330.25" width="7.70" height="7.70" fill="#000"/>
<rect x="87.12" y="310.45" width="7.70" height="7.70" fill="#000"/>
<rect x="117.10" y="274.69" width="7.70" height="7.70" fill="#000"/>
<rect x="177.05" y="215.89" width="7.70" height="7.70" fill="#000"/>
<rect x="296.95" y="215.05" width="7.70" height="7.70" fill="#000"/>
<path d="M90.97,303.38 V313.22 M86.57,303.38 H95.38 M86.57,313.22 H95.38" stroke="#ff2600" stroke-width="1.6" fill="none"/>
<path d="M120.95,226.40 V236.60 M116.55,226.40 H125.35 M116.55,236.60 H125.35" stroke="#ff2600" stroke-width="1.6" fill="none"/>
<path d="M180.90,217.46 V220.34 M176.50,217.46 H185.30 M176.50,220.34 H185.30" stroke="#ff2600" stroke-width="1.6" fill="none"/>
<path d="M300.80,216.02 V218.90 M296.40,216.02 H305.20 M296.40,218.90 H305.20" stroke="#ff2600" stroke-width="1.6" fill="none"/>
<path d="M90.97,316.10 V330.98 M86.57,316.10 H95.38 M86.57,330.98 H95.38" stroke="#0433ff" stroke-width="1.6" fill="none"/>
<path d="M120.95,270.26 V281.78 M116.55,270.26 H125.35 M116.55,281.78 H125.35" stroke="#0433ff" stroke-width="1.6" fill="none"/>
<path d="M180.90,219.62 V222.50 M176.50,219.62 H185.30 M176.50,222.50 H185.30" stroke="#0433ff" stroke-width="1.6" fill="none"/>
<path d="M300.80,219.62 V222.50 M296.40,219.62 H305.20 M296.40,222.50 H305.20" stroke="#0433ff" stroke-width="1.6" fill="none"/>
<path d="M90.97,304.46 V324.14 M86.57,304.46 H95.38 M86.57,324.14 H95.38" stroke="#000" stroke-width="1.6" fill="none"/>
<path d="M120.95,262.10 V294.98 M116.55,262.10 H125.35 M116.55,294.98 H125.35" stroke="#000" stroke-width="1.6" fill="none"/>
<path d="M180.90,217.94 V221.54 M176.50,217.94 H185.30 M176.50,221.54 H185.30" stroke="#000" stroke-width="1.6" fill="none"/>
<path d="M300.80,217.10 V220.70 M296.40,217.10 H305.20 M296.40,220.70 H305.20" stroke="#000" stroke-width="1.6" fill="none"/>
<line x1="217.30" y1="297.00" x2="227.70" y2="297.00" stroke="#000" stroke-width="1.4"/>
<rect x="219.40" y="293.90" width="6.20" height="6.20" fill="#000"/>
<text x="235.93" y="301.1" font-size="11.4" font-weight="bold" fill="#000" textLength="34.69" lengthAdjust="spacingAndGlyphs">Rad51</text>
<line x1="217.30" y1="310.10" x2="227.70" y2="310.10" stroke="#0433ff" stroke-width="1.4"/>
<circle cx="222.50" cy="310.10" r="3.10" fill="#0433ff"/>
<text x="235.9" y="314.20000000000005" font-size="11.4" font-weight="bold" fill="#0000ff" textLength="56.4" lengthAdjust="spacingAndGlyphs">Rad51-ED</text>
<line x1="217.30" y1="323.20" x2="227.70" y2="323.20" stroke="#ff2600" stroke-width="1.4"/>
<polygon points="222.50,320.00 225.70,325.30 219.30,325.30" fill="#ff2600"/>
<text x="235.9" y="327.3" font-size="11.4" font-weight="bold" fill="#ff0000" textLength="57.41" lengthAdjust="spacingAndGlyphs">Rad51-KN</text>
<path d="M411.40,221.10 V341.80 H652.00" fill="none" stroke="#000" stroke-width="1.7"/>
<line x1="407.20" y1="341.80" x2="411.40" y2="341.80" stroke="#000" stroke-width="1.5"/>
<text x="384.0" y="346.2" font-size="11.7" font-weight="bold" fill="#000" textLength="16.91" lengthAdjust="spacingAndGlyphs">0%</text>
<line x1="407.20" y1="317.82" x2="411.40" y2="317.82" stroke="#000" stroke-width="1.5"/>
<text x="377.49" y="322.21999999999997" font-size="11.7" font-weight="bold" fill="#000" textLength="23.42" lengthAdjust="spacingAndGlyphs">20%</text>
<line x1="407.20" y1="293.84" x2="411.40" y2="293.84" stroke="#000" stroke-width="1.5"/>
<text x="377.49" y="298.24" font-size="11.7" font-weight="bold" fill="#000" textLength="23.42" lengthAdjust="spacingAndGlyphs">40%</text>
<line x1="407.20" y1="269.86" x2="411.40" y2="269.86" stroke="#000" stroke-width="1.5"/>
<text x="377.49" y="274.26" font-size="11.7" font-weight="bold" fill="#000" textLength="23.42" lengthAdjust="spacingAndGlyphs">60%</text>
<line x1="407.20" y1="245.88" x2="411.40" y2="245.88" stroke="#000" stroke-width="1.5"/>
<text x="377.49" y="250.28" font-size="11.7" font-weight="bold" fill="#000" textLength="23.42" lengthAdjust="spacingAndGlyphs">80%</text>
<line x1="407.20" y1="221.90" x2="411.40" y2="221.90" stroke="#000" stroke-width="1.5"/>
<text x="370.98" y="226.3" font-size="11.7" font-weight="bold" fill="#000" textLength="29.92" lengthAdjust="spacingAndGlyphs">100%</text>
<line x1="411.40" y1="341.80" x2="411.40" y2="346.00" stroke="#000" stroke-width="1.5"/>
<text x="407.66" y="360.1" font-size="11.7" font-weight="bold" fill="#000" textLength="6.51" lengthAdjust="spacingAndGlyphs">0</text>
<line x1="471.35" y1="341.80" x2="471.35" y2="346.00" stroke="#000" stroke-width="1.5"/>
<text x="461.15" y="360.1" font-size="11.7" font-weight="bold" fill="#000" textLength="19.52" lengthAdjust="spacingAndGlyphs">500</text>
<line x1="531.30" y1="341.80" x2="531.30" y2="346.00" stroke="#000" stroke-width="1.5"/>
<text x="517.66" y="360.1" font-size="11.7" font-weight="bold" fill="#000" textLength="26.03" lengthAdjust="spacingAndGlyphs">1000</text>
<line x1="591.25" y1="341.80" x2="591.25" y2="346.00" stroke="#000" stroke-width="1.5"/>
<text x="577.61" y="360.1" font-size="11.7" font-weight="bold" fill="#000" textLength="26.03" lengthAdjust="spacingAndGlyphs">1500</text>
<line x1="651.20" y1="341.80" x2="651.20" y2="346.00" stroke="#000" stroke-width="1.5"/>
<text x="637.72" y="360.1" font-size="11.7" font-weight="bold" fill="#000" textLength="26.03" lengthAdjust="spacingAndGlyphs">2000</text>
<text x="0" y="0" font-size="12.2" font-weight="bold" textLength="113.83" lengthAdjust="spacingAndGlyphs" transform="translate(361.3,332.17) rotate(-90)">ssDNA Bound (%)</text>
<text x="498.2" y="380.1" font-size="11.5" font-weight="bold" fill="#000" textLength="64.7" lengthAdjust="spacingAndGlyphs">Rad51 (nM)</text>
<polyline points="411.40,341.80 441.38,319.38 471.35,263.27 531.30,226.10 651.20,225.26" fill="none" stroke="#ff2600" stroke-width="1.4"/>
<polyline points="411.40,341.80 441.38,336.28 471.35,309.67 531.30,228.85 651.20,226.22" fill="none" stroke="#0433ff" stroke-width="1.4"/>
<polyline points="411.40,341.80 441.38,324.29 471.35,299.95 531.30,230.77 651.20,227.18" fill="none" stroke="#000" stroke-width="1.4"/>
<polygon points="411.40,337.80 415.30,344.60 407.50,344.60" fill="#ff2600"/>
<polygon points="441.38,315.38 445.27,322.18 437.48,322.18" fill="#ff2600"/>
<polygon points="471.35,259.27 475.25,266.07 467.45,266.07" fill="#ff2600"/>
<polygon points="531.30,222.10 535.20,228.90 527.40,228.90" fill="#ff2600"/>
<polygon points="651.20,221.26 655.10,228.06 647.30,228.06" fill="#ff2600"/>
<circle cx="411.40" cy="341.80" r="3.85" fill="#0433ff"/>
<circle cx="441.38" cy="336.28" r="3.85" fill="#0433ff"/>
<circle cx="471.35" cy="309.67" r="3.85" fill="#0433ff"/>
<circle cx="531.30" cy="228.85" r="3.85" fill="#0433ff"/>
<circle cx="651.20" cy="226.22" r="3.85" fill="#0433ff"/>
<rect x="407.55" y="337.95" width="7.70" height="7.70" fill="#000"/>
<rect x="437.52" y="320.44" width="7.70" height="7.70" fill="#000"/>
<rect x="467.50" y="296.10" width="7.70" height="7.70" fill="#000"/>
<rect x="527.45" y="226.92" width="7.70" height="7.70" fill="#000"/>
<rect x="647.35" y="223.33" width="7.70" height="7.70" fill="#000"/>
<path d="M441.38,317.46 V321.30 M436.98,317.46 H445.77 M436.98,321.30 H445.77" stroke="#ff2600" stroke-width="1.6" fill="none"/>
<path d="M471.35,262.67 V263.87 M466.95,262.67 H475.75 M466.95,263.87 H475.75" stroke="#ff2600" stroke-width="1.6" fill="none"/>
<path d="M531.30,224.90 V227.30 M526.90,224.90 H535.70 M526.90,227.30 H535.70" stroke="#ff2600" stroke-width="1.6" fill="none"/>
<path d="M651.20,224.06 V226.46 M646.80,224.06 H655.60 M646.80,226.46 H655.60" stroke="#ff2600" stroke-width="1.6" fill="none"/>
<path d="M441.38,333.89 V338.68 M436.98,333.89 H445.77 M436.98,338.68 H445.77" stroke="#0433ff" stroke-width="1.6" fill="none"/>
<path d="M471.35,306.67 V312.66 M466.95,306.67 H475.75 M466.95,312.66 H475.75" stroke="#0433ff" stroke-width="1.6" fill="none"/>
<path d="M531.30,227.42 V230.29 M526.90,227.42 H535.70 M526.90,230.29 H535.70" stroke="#0433ff" stroke-width="1.6" fill="none"/>
<path d="M651.20,224.78 V227.66 M646.80,224.78 H655.60 M646.80,227.66 H655.60" stroke="#0433ff" stroke-width="1.6" fill="none"/>
<path d="M441.38,317.58 V331.01 M436.98,317.58 H445.77 M436.98,331.01 H445.77" stroke="#000" stroke-width="1.6" fill="none"/>
<path d="M471.35,292.64 V307.27 M466.95,292.64 H475.75 M466.95,307.27 H475.75" stroke="#000" stroke-width="1.6" fill="none"/>
<path d="M531.30,228.97 V232.57 M526.90,228.97 H535.70 M526.90,232.57 H535.70" stroke="#000" stroke-width="1.6" fill="none"/>
<path d="M651.20,225.38 V228.97 M646.80,225.38 H655.60 M646.80,228.97 H655.60" stroke="#000" stroke-width="1.6" fill="none"/>
<line x1="567.90" y1="304.30" x2="578.30" y2="304.30" stroke="#000" stroke-width="1.4"/>
<rect x="570.00" y="301.20" width="6.20" height="6.20" fill="#000"/>
<text x="586.52" y="308.40000000000003" font-size="11.4" font-weight="bold" fill="#000" textLength="34.9" lengthAdjust="spacingAndGlyphs">Rad51</text>
<line x1="567.90" y1="317.20" x2="578.30" y2="317.20" stroke="#0433ff" stroke-width="1.4"/>
<circle cx="573.10" cy="317.20" r="3.10" fill="#0433ff"/>
<text x="586.51" y="321.3" font-size="11.4" font-weight="bold" fill="#0000ff" textLength="56.09" lengthAdjust="spacingAndGlyphs">Rad51-ED</text>
<line x1="567.90" y1="330.10" x2="578.30" y2="330.10" stroke="#ff2600" stroke-width="1.4"/>
<polygon points="573.10,326.90 576.30,332.20 569.90,332.20" fill="#ff2600"/>
<text x="586.5" y="334.20000000000005" font-size="11.4" font-weight="bold" fill="#ff0000" textLength="57.31" lengthAdjust="spacingAndGlyphs">Rad51-KN</text>
<path d="M60.90,614.80 V735.60 H301.60" fill="none" stroke="#000" stroke-width="1.7"/>
<line x1="56.70" y1="735.60" x2="60.90" y2="735.60" stroke="#000" stroke-width="1.5"/>
<text x="33.5" y="740.0" font-size="11.7" font-weight="bold" fill="#000" textLength="16.91" lengthAdjust="spacingAndGlyphs">0%</text>
<line x1="56.70" y1="711.60" x2="60.90" y2="711.60" stroke="#000" stroke-width="1.5"/>
<text x="26.99" y="716.0" font-size="11.7" font-weight="bold" fill="#000" textLength="23.42" lengthAdjust="spacingAndGlyphs">20%</text>
<line x1="56.70" y1="687.60" x2="60.90" y2="687.60" stroke="#000" stroke-width="1.5"/>
<text x="26.99" y="692.0" font-size="11.7" font-weight="bold" fill="#000" textLength="23.42" lengthAdjust="spacingAndGlyphs">40%</text>
<line x1="56.70" y1="663.60" x2="60.90" y2="663.60" stroke="#000" stroke-width="1.5"/>
<text x="26.99" y="668.0" font-size="11.7" font-weight="bold" fill="#000" textLength="23.42" lengthAdjust="spacingAndGlyphs">60%</text>
<line x1="56.70" y1="639.60" x2="60.90" y2="639.60" stroke="#000" stroke-width="1.5"/>
<text x="26.99" y="644.0" font-size="11.7" font-weight="bold" fill="#000" textLength="23.42" lengthAdjust="spacingAndGlyphs">80%</text>
<line x1="56.70" y1="615.60" x2="60.90" y2="615.60" stroke="#000" stroke-width="1.5"/>
<text x="20.48" y="620.0" font-size="11.7" font-weight="bold" fill="#000" textLength="29.92" lengthAdjust="spacingAndGlyphs">100%</text>
<line x1="60.90" y1="735.60" x2="60.90" y2="739.80" stroke="#000" stroke-width="1.5"/>
<text x="57.16" y="753.9" font-size="11.7" font-weight="bold" fill="#000" textLength="6.51" lengthAdjust="spacingAndGlyphs">0</text>
<line x1="120.88" y1="735.60" x2="120.88" y2="739.80" stroke="#000" stroke-width="1.5"/>
<text x="110.67" y="753.9" font-size="11.7" font-weight="bold" fill="#000" textLength="19.52" lengthAdjust="spacingAndGlyphs">500</text>
<line x1="180.85" y1="735.60" x2="180.85" y2="739.80" stroke="#000" stroke-width="1.5"/>
<text x="167.21" y="753.9" font-size="11.7" font-weight="bold" fill="#000" textLength="26.03" lengthAdjust="spacingAndGlyphs">1000</text>
<line x1="240.83" y1="735.60" x2="240.83" y2="739.80" stroke="#000" stroke-width="1.5"/>
<text x="227.18" y="753.9" font-size="11.7" font-weight="bold" fill="#000" textLength="26.03" lengthAdjust="spacingAndGlyphs">1500</text>
<line x1="300.80" y1="735.60" x2="300.80" y2="739.80" stroke="#000" stroke-width="1.5"/>
<text x="287.32" y="753.9" font-size="11.7" font-weight="bold" fill="#000" textLength="26.03" lengthAdjust="spacingAndGlyphs">2000</text>
<text x="0" y="0" font-size="12.2" font-weight="bold" textLength="114.0" lengthAdjust="spacingAndGlyphs" transform="translate(10.3,731.94) rotate(-90)">dsDNA Bound (%)</text>
<text x="144.0" y="774.4" font-size="12.2" font-weight="bold" fill="#000" textLength="72.47" lengthAdjust="spacingAndGlyphs">Rad51 (nM)</text>
<polyline points="60.90,735.60 90.89,730.80 120.88,722.40 180.85,684.00 300.80,652.44" fill="none" stroke="#ff2600" stroke-width="1.4"/>
<polyline points="60.90,735.60 90.89,733.20 120.88,726.00 180.85,714.24 300.80,690.60" fill="none" stroke="#0433ff" stroke-width="1.4"/>
<polyline points="60.90,735.60 90.89,729.60 120.88,718.80 180.85,672.96 300.80,623.04" fill="none" stroke="#000" stroke-width="1.4"/>
<polygon points="60.90,731.60 64.80,738.40 57.00,738.40" fill="#ff2600"/>
<polygon points="90.89,726.80 94.79,733.60 86.99,733.60" fill="#ff2600"/>
<polygon points="120.88,718.40 124.78,725.20 116.97,725.20" fill="#ff2600"/>
<polygon points="180.85,680.00 184.75,686.80 176.95,686.80" fill="#ff2600"/>
<polygon points="300.80,648.44 304.70,655.24 296.90,655.24" fill="#ff2600"/>
<circle cx="60.90" cy="735.60" r="3.85" fill="#0433ff"/>
<circle cx="90.89" cy="733.20" r="3.85" fill="#0433ff"/>
<circle cx="120.88" cy="726.00" r="3.85" fill="#0433ff"/>
<circle cx="180.85" cy="714.24" r="3.85" fill="#0433ff"/>
<circle cx="300.80" cy="690.60" r="3.85" fill="#0433ff"/>
<rect x="57.05" y="731.75" width="7.70" height="7.70" fill="#000"/>
<rect x="87.04" y="725.75" width="7.70" height="7.70" fill="#000"/>
<rect x="117.03" y="714.95" width="7.70" height="7.70" fill="#000"/>
<rect x="177.00" y="669.11" width="7.70" height="7.70" fill="#000"/>
<rect x="296.95" y="619.19" width="7.70" height="7.70" fill="#000"/>
<path d="M90.89,729.00 V732.60 M86.49,729.00 H95.29 M86.49,732.60 H95.29" stroke="#ff2600" stroke-width="1.6" fill="none"/>
<path d="M120.88,720.60 V724.20 M116.47,720.60 H125.28 M116.47,724.20 H125.28" stroke="#ff2600" stroke-width="1.6" fill="none"/>
<path d="M180.85,682.20 V685.80 M176.45,682.20 H185.25 M176.45,685.80 H185.25" stroke="#ff2600" stroke-width="1.6" fill="none"/>
<path d="M300.80,651.24 V653.64 M296.40,651.24 H305.20 M296.40,653.64 H305.20" stroke="#ff2600" stroke-width="1.6" fill="none"/>
<path d="M90.89,731.40 V735.00 M86.49,731.40 H95.29 M86.49,735.00 H95.29" stroke="#0433ff" stroke-width="1.6" fill="none"/>
<path d="M120.88,721.80 V730.20 M116.47,721.80 H125.28 M116.47,730.20 H125.28" stroke="#0433ff" stroke-width="1.6" fill="none"/>
<path d="M180.85,711.24 V717.24 M176.45,711.24 H185.25 M176.45,717.24 H185.25" stroke="#0433ff" stroke-width="1.6" fill="none"/>
<path d="M300.80,689.16 V692.04 M296.40,689.16 H305.20 M296.40,692.04 H305.20" stroke="#0433ff" stroke-width="1.6" fill="none"/>
<path d="M90.89,726.60 V732.60 M86.49,726.60 H95.29 M86.49,732.60 H95.29" stroke="#000" stroke-width="1.6" fill="none"/>
<path d="M120.88,715.20 V722.40 M116.47,715.20 H125.28 M116.47,722.40 H125.28" stroke="#000" stroke-width="1.6" fill="none"/>
<path d="M180.85,666.36 V679.56 M176.45,666.36 H185.25 M176.45,679.56 H185.25" stroke="#000" stroke-width="1.6" fill="none"/>
<path d="M300.80,621.24 V624.84 M296.40,621.24 H305.20 M296.40,624.84 H305.20" stroke="#000" stroke-width="1.6" fill="none"/>
<line x1="67.70" y1="622.50" x2="78.10" y2="622.50" stroke="#000" stroke-width="1.4"/>
<rect x="69.80" y="619.40" width="6.20" height="6.20" fill="#000"/>
<text x="86.12" y="626.6" font-size="11.4" font-weight="bold" fill="#000" textLength="34.9" lengthAdjust="spacingAndGlyphs">Rad51</text>
<line x1="67.70" y1="635.40" x2="78.10" y2="635.40" stroke="#0433ff" stroke-width="1.4"/>
<circle cx="72.90" cy="635.40" r="3.10" fill="#0433ff"/>
<text x="86.1" y="639.5" font-size="11.4" font-weight="bold" fill="#0000ff" textLength="56.5" lengthAdjust="spacingAndGlyphs">Rad51-ED</text>
<line x1="67.70" y1="648.30" x2="78.10" y2="648.30" stroke="#ff2600" stroke-width="1.4"/>
<polygon points="72.90,645.10 76.10,650.40 69.70,650.40" fill="#ff2600"/>
<text x="86.09" y="652.4" font-size="11.4" font-weight="bold" fill="#ff0000" textLength="57.72" lengthAdjust="spacingAndGlyphs">Rad51-KN</text>
<path d="M411.30,614.80 V735.60 H652.10" fill="none" stroke="#000" stroke-width="1.7"/>
<line x1="407.10" y1="735.60" x2="411.30" y2="735.60" stroke="#000" stroke-width="1.5"/>
<text x="383.9" y="740.0" font-size="11.7" font-weight="bold" fill="#000" textLength="16.91" lengthAdjust="spacingAndGlyphs">0%</text>
<line x1="407.10" y1="711.60" x2="411.30" y2="711.60" stroke="#000" stroke-width="1.5"/>
<text x="377.39" y="716.0" font-size="11.7" font-weight="bold" fill="#000" textLength="23.42" lengthAdjust="spacingAndGlyphs">20%</text>
<line x1="407.10" y1="687.60" x2="411.30" y2="687.60" stroke="#000" stroke-width="1.5"/>
<text x="377.39" y="692.0" font-size="11.7" font-weight="bold" fill="#000" textLength="23.42" lengthAdjust="spacingAndGlyphs">40%</text>
<line x1="407.10" y1="663.60" x2="411.30" y2="663.60" stroke="#000" stroke-width="1.5"/>
<text x="377.39" y="668.0" font-size="11.7" font-weight="bold" fill="#000" textLength="23.42" lengthAdjust="spacingAndGlyphs">60%</text>
<line x1="407.10" y1="639.60" x2="411.30" y2="639.60" stroke="#000" stroke-width="1.5"/>
<text x="377.39" y="644.0" font-size="11.7" font-weight="bold" fill="#000" textLength="23.42" lengthAdjust="spacingAndGlyphs">80%</text>
<line x1="407.10" y1="615.60" x2="411.30" y2="615.60" stroke="#000" stroke-width="1.5"/>
<text x="370.88" y="620.0" font-size="11.7" font-weight="bold" fill="#000" textLength="29.92" lengthAdjust="spacingAndGlyphs">100%</text>
<line x1="411.30" y1="735.60" x2="411.30" y2="739.80" stroke="#000" stroke-width="1.5"/>
<text x="407.56" y="753.9" font-size="11.7" font-weight="bold" fill="#000" textLength="6.51" lengthAdjust="spacingAndGlyphs">0</text>
<line x1="471.30" y1="735.60" x2="471.30" y2="739.80" stroke="#000" stroke-width="1.5"/>
<text x="461.1" y="753.9" font-size="11.7" font-weight="bold" fill="#000" textLength="19.52" lengthAdjust="spacingAndGlyphs">500</text>
<line x1="531.30" y1="735.60" x2="531.30" y2="739.80" stroke="#000" stroke-width="1.5"/>
<text x="517.66" y="753.9" font-size="11.7" font-weight="bold" fill="#000" textLength="26.03" lengthAdjust="spacingAndGlyphs">1000</text>
<line x1="591.30" y1="735.60" x2="591.30" y2="739.80" stroke="#000" stroke-width="1.5"/>
<text x="577.66" y="753.9" font-size="11.7" font-weight="bold" fill="#000" textLength="26.03" lengthAdjust="spacingAndGlyphs">1500</text>
<line x1="651.30" y1="735.60" x2="651.30" y2="739.80" stroke="#000" stroke-width="1.5"/>
<text x="637.82" y="753.9" font-size="11.7" font-weight="bold" fill="#000" textLength="26.03" lengthAdjust="spacingAndGlyphs">2000</text>
<text x="0" y="0" font-size="12.2" font-weight="bold" textLength="114.0" lengthAdjust="spacingAndGlyphs" transform="translate(360.9,731.94) rotate(-90)">dsDNA Bound (%)</text>
<text x="495.7" y="774.4" font-size="12.2" font-weight="bold" fill="#000" textLength="72.57" lengthAdjust="spacingAndGlyphs">Rad51 (nM)</text>
<polyline points="411.30,735.60 441.30,731.76 471.30,723.96 531.30,710.52 651.30,689.76" fill="none" stroke="#ff2600" stroke-width="1.4"/>
<polyline points="411.30,735.60 441.30,731.40 471.30,726.24 531.30,716.52 651.30,709.20" fill="none" stroke="#0433ff" stroke-width="1.4"/>
<polyline points="411.30,735.60 441.30,732.96 471.30,731.76 531.30,700.80 651.30,641.04" fill="none" stroke="#000" stroke-width="1.4"/>
<polygon points="411.30,731.60 415.20,738.40 407.40,738.40" fill="#ff2600"/>
<polygon points="441.30,727.76 445.20,734.56 437.40,734.56" fill="#ff2600"/>
<polygon points="471.30,719.96 475.20,726.76 467.40,726.76" fill="#ff2600"/>
<polygon points="531.30,706.52 535.20,713.32 527.40,713.32" fill="#ff2600"/>
<polygon points="651.30,685.76 655.20,692.56 647.40,692.56" fill="#ff2600"/>
<circle cx="411.30" cy="735.60" r="3.85" fill="#0433ff"/>
<circle cx="441.30" cy="731.40" r="3.85" fill="#0433ff"/>
<circle cx="471.30" cy="726.24" r="3.85" fill="#0433ff"/>
<circle cx="531.30" cy="716.52" r="3.85" fill="#0433ff"/>
<circle cx="651.30" cy="709.20" r="3.85" fill="#0433ff"/>
<rect x="407.45" y="731.75" width="7.70" height="7.70" fill="#000"/>
<rect x="437.45" y="729.11" width="7.70" height="7.70" fill="#000"/>
<rect x="467.45" y="727.91" width="7.70" height="7.70" fill="#000"/>
<rect x="527.45" y="696.95" width="7.70" height="7.70" fill="#000"/>
<rect x="647.45" y="637.19" width="7.70" height="7.70" fill="#000"/>
<path d="M441.30,730.56 V732.96 M436.90,730.56 H445.70 M436.90,732.96 H445.70" stroke="#ff2600" stroke-width="1.6" fill="none"/>
<path d="M471.30,714.36 V733.56 M466.90,714.36 H475.70 M466.90,733.56 H475.70" stroke="#ff2600" stroke-width="1.6" fill="none"/>
<path d="M531.30,702.24 V718.80 M526.90,702.24 H535.70 M526.90,718.80 H535.70" stroke="#ff2600" stroke-width="1.6" fill="none"/>
<path d="M651.30,688.56 V690.96 M646.90,688.56 H655.70 M646.90,690.96 H655.70" stroke="#ff2600" stroke-width="1.6" fill="none"/>
<path d="M441.30,728.40 V734.40 M436.90,728.40 H445.70 M436.90,734.40 H445.70" stroke="#0433ff" stroke-width="1.6" fill="none"/>
<path d="M471.30,720.84 V731.64 M466.90,720.84 H475.70 M466.90,731.64 H475.70" stroke="#0433ff" stroke-width="1.6" fill="none"/>
<path d="M531.30,705.12 V727.92 M526.90,705.12 H535.70 M526.90,727.92 H535.70" stroke="#0433ff" stroke-width="1.6" fill="none"/>
<path d="M651.30,702.60 V715.80 M646.90,702.60 H655.70 M646.90,715.80 H655.70" stroke="#0433ff" stroke-width="1.6" fill="none"/>
<path d="M441.30,731.16 V734.76 M436.90,731.16 H445.70 M436.90,734.76 H445.70" stroke="#000" stroke-width="1.6" fill="none"/>
<path d="M471.30,728.16 V735.36 M466.90,728.16 H475.70 M466.90,735.36 H475.70" stroke="#000" stroke-width="1.6" fill="none"/>
<path d="M531.30,691.92 V709.68 M526.90,691.92 H535.70 M526.90,709.68 H535.70" stroke="#000" stroke-width="1.6" fill="none"/>
<path d="M651.30,636.60 V645.48 M646.90,636.60 H655.70 M646.90,645.48 H655.70" stroke="#000" stroke-width="1.6" fill="none"/>
<line x1="419.70" y1="622.50" x2="430.10" y2="622.50" stroke="#000" stroke-width="1.4"/>
<rect x="421.80" y="619.40" width="6.20" height="6.20" fill="#000"/>
<text x="438.12" y="626.6" font-size="11.4" font-weight="bold" fill="#000" textLength="34.9" lengthAdjust="spacingAndGlyphs">Rad51</text>
<line x1="419.70" y1="635.50" x2="430.10" y2="635.50" stroke="#0433ff" stroke-width="1.4"/>
<circle cx="424.90" cy="635.50" r="3.10" fill="#0433ff"/>
<text x="438.1" y="639.6" font-size="11.4" font-weight="bold" fill="#0000ff" textLength="56.5" lengthAdjust="spacingAndGlyphs">Rad51-ED</text>
<line x1="419.70" y1="648.50" x2="430.10" y2="648.50" stroke="#ff2600" stroke-width="1.4"/>
<polygon points="424.90,645.30 428.10,650.60 421.70,650.60" fill="#ff2600"/>
<text x="438.09" y="652.6" font-size="11.4" font-weight="bold" fill="#ff0000" textLength="57.72" lengthAdjust="spacingAndGlyphs">Rad51-KN</text>
</svg>
</body></html>
